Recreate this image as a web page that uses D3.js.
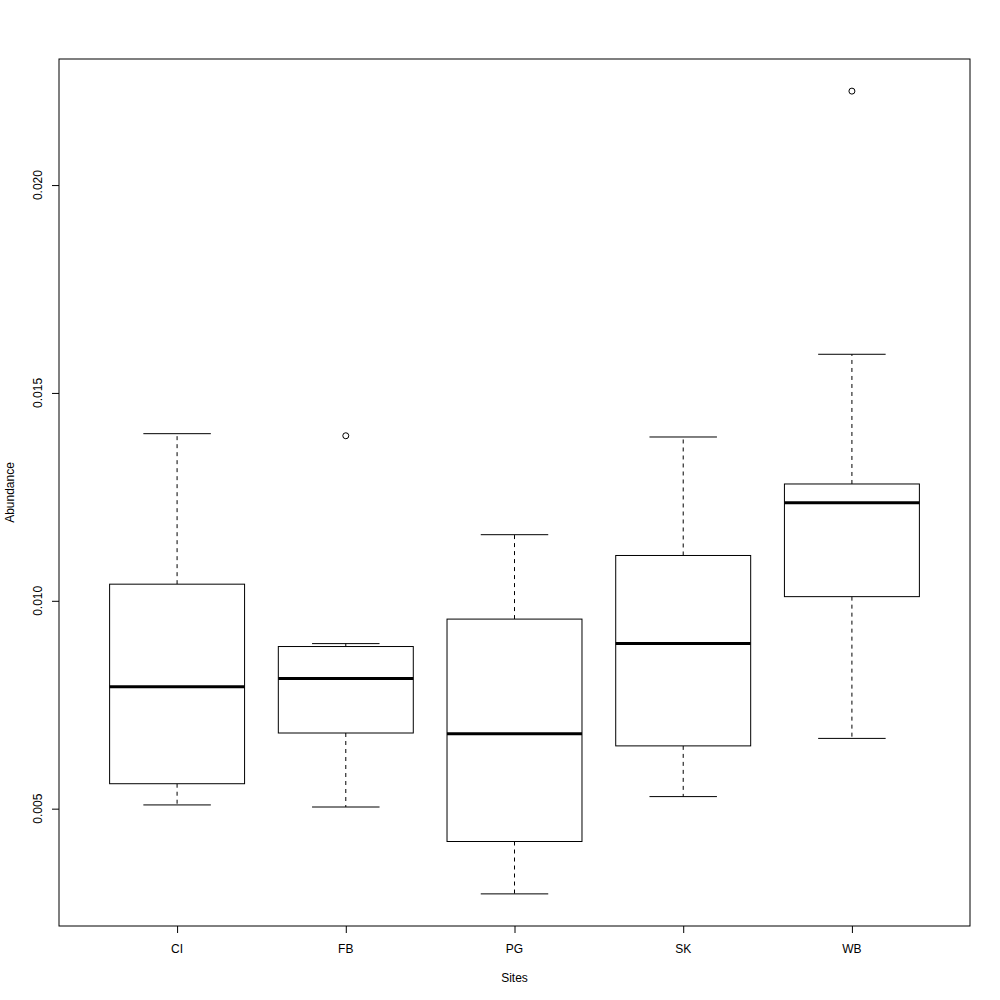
<!DOCTYPE html>
<html>
<head>
<meta charset="utf-8">
<script src="https://cdn.jsdelivr.net/npm/d3@7"></script>
<style>
  html, body { margin: 0; padding: 0; background: #fff; }
  svg { display: block; }
  text { font-family: "Liberation Sans", Arial, Helvetica, sans-serif; fill: #000; }
</style>
</head>
<body>
<svg id="chart" width="1000" height="1000"></svg>
<script>
const sites       = ["CI", "FB", "PG", "SK", "WB"];
const whiskerLow  = [0.00509, 0.00504, 0.00295, 0.00529, 0.00669];
const q1          = [0.00560, 0.00682, 0.00421, 0.00651, 0.01010];
const medians     = [0.00793, 0.00813, 0.00680, 0.00897, 0.01236];
const q3          = [0.01040, 0.00890, 0.00956, 0.01109, 0.01281];
const whiskerHigh = [0.01402, 0.00897, 0.01159, 0.01394, 0.01593];
const outlierSite  = ["FB", "WB"];
const outlierValue = [0.01397, 0.02226];
const yTicks = [0.005, 0.010, 0.015, 0.020];
const yLabel = "Abundance";
const xLabel = "Sites";

const svg = d3.select("#chart");
const L = 59, R = 970, T = 59, B = 926;

const allVals = whiskerLow.concat(whiskerHigh, outlierValue);
const ymin = d3.min(allVals), ymax = d3.max(allVals);
const pad = (ymax - ymin) * 0.04;
const y = d3.scaleLinear().domain([ymin - pad, ymax + pad]).range([B, T]);
const x = d3.scaleLinear().domain([0.3, sites.length + 0.7]).range([L, R]);
const pos = s => x(sites.indexOf(s) + 1);

const boxHalf = 0.4, capHalf = 0.2;
const g = svg.append("g");

sites.forEach((s, i) => {
  const cx = pos(s);
  const xl = x(i + 1 - boxHalf), xr = x(i + 1 + boxHalf);
  const cl = x(i + 1 - capHalf), cr = x(i + 1 + capHalf);
  // whiskers (dashed)
  g.append("line").attr("x1", cx).attr("x2", cx)
    .attr("y1", y(q3[i])).attr("y2", y(whiskerHigh[i]))
    .attr("stroke", "#000").attr("stroke-width", 1).attr("stroke-dasharray", "4,4");
  g.append("line").attr("x1", cx).attr("x2", cx)
    .attr("y1", y(q1[i])).attr("y2", y(whiskerLow[i]))
    .attr("stroke", "#000").attr("stroke-width", 1).attr("stroke-dasharray", "4,4");
  // caps
  g.append("line").attr("x1", cl).attr("x2", cr)
    .attr("y1", y(whiskerHigh[i])).attr("y2", y(whiskerHigh[i]))
    .attr("stroke", "#000").attr("stroke-width", 1);
  g.append("line").attr("x1", cl).attr("x2", cr)
    .attr("y1", y(whiskerLow[i])).attr("y2", y(whiskerLow[i]))
    .attr("stroke", "#000").attr("stroke-width", 1);
  // box
  g.append("rect").attr("x", xl).attr("width", xr - xl)
    .attr("y", y(q3[i])).attr("height", y(q1[i]) - y(q3[i]))
    .attr("fill", "#fff").attr("stroke", "#000").attr("stroke-width", 1);
  // median
  g.append("line").attr("x1", xl).attr("x2", xr)
    .attr("y1", y(medians[i])).attr("y2", y(medians[i]))
    .attr("stroke", "#000").attr("stroke-width", 3);
});

// outliers
g.selectAll("circle.out").data(outlierSite.map((s, i) => ({ s, v: outlierValue[i] })))
  .enter().append("circle")
  .attr("cx", d => pos(d.s)).attr("cy", d => y(d.v)).attr("r", 3)
  .attr("fill", "none").attr("stroke", "#000").attr("stroke-width", 1);

// frame
svg.append("rect").attr("x", L).attr("y", T).attr("width", R - L).attr("height", B - T)
  .attr("fill", "none").attr("stroke", "#000").attr("stroke-width", 1);

// y axis
const yAxis = d3.axisLeft(y).tickValues(yTicks).tickFormat(d3.format(".3f")).tickSize(7).tickPadding(0);
const ya = svg.append("g").attr("transform", `translate(${L},0)`).call(yAxis);
ya.select(".domain").remove();
ya.selectAll("line").attr("stroke", "#000");
ya.selectAll("text").remove();
yTicks.forEach(t => {
  svg.append("text")
    .attr("transform", `translate(${L - 17},${y(t)}) rotate(-90)`)
    .attr("text-anchor", "middle").attr("font-size", 12)
    .text(d3.format(".3f")(t));
});

// x axis
const xAxis = d3.axisBottom(x).tickValues(sites.map((s, i) => i + 1))
  .tickFormat((d, i) => sites[i]).tickSize(7).tickPadding(0);
const xa = svg.append("g").attr("transform", `translate(0,${B})`).call(xAxis);
xa.select(".domain").remove();
xa.selectAll("line").attr("stroke", "#000");
xa.selectAll("text").remove();
sites.forEach((s, i) => {
  svg.append("text").attr("x", x(i + 1)).attr("y", B + 27)
    .attr("text-anchor", "middle").attr("font-size", 12).text(s);
});

// axis titles
svg.append("text").attr("x", (L + R) / 2).attr("y", 982)
  .attr("text-anchor", "middle").attr("font-size", 12).text(xLabel);
svg.append("text").attr("transform", `translate(14,${(T + B) / 2}) rotate(-90)`)
  .attr("text-anchor", "middle").attr("font-size", 12).text(yLabel);
</script>
</body>
</html>
